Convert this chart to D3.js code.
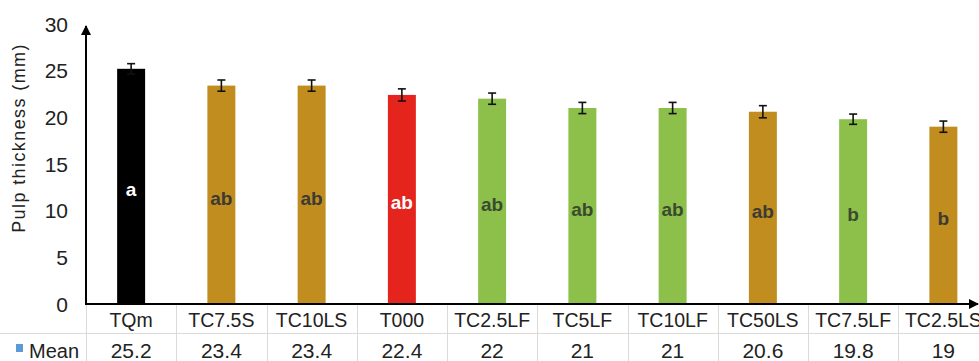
<!DOCTYPE html>
<html>
<head>
<meta charset="utf-8">
<script src="https://cdn.jsdelivr.net/npm/d3@7"></script>
<style>
  body { margin: 0; background: #fff; overflow: hidden; }
  svg { display: block; font-family: Arial, "Liberation Sans", sans-serif; }
</style>
</head>
<body>
<div id="chart"></div>
<script>
// Data
const categories = ['TQm', 'TC7.5S', 'TC10LS', 'T000', 'TC2.5LF', 'TC5LF', 'TC10LF', 'TC50LS', 'TC7.5LF', 'TC2.5LS'];
const means = [25.2, 23.4, 23.4, 22.4, 22, 21, 21, 20.6, 19.8, 19];
const errors = [0.55, 0.6, 0.6, 0.65, 0.6, 0.6, 0.6, 0.65, 0.55, 0.6];
const letters = ['a', 'ab', 'ab', 'ab', 'ab', 'ab', 'ab', 'ab', 'b', 'b'];
const groups = ['control', 'S', 'S', 'zero', 'F', 'F', 'F', 'S', 'F', 'S'];
const yTicks = [0, 5, 10, 15, 20, 25, 30];

const fillColor = { control: '#000000', S: '#c08d1e', zero: '#e5241e', F: '#8cc04b' };
const letterColor = { control: '#ffffff', S: '#3d3a33', zero: '#ffffff', F: '#3a4a30' };

const width = 979, height = 361;
const margin = { left: 86, top: 24, bottom: 57 };
const colStep = 90.25;

const svg = d3.select('#chart').append('svg')
  .attr('width', width)
  .attr('height', height);

// Columns run past the right edge, as in the original
const x = d3.scaleBand()
  .domain(categories)
  .range([margin.left, margin.left + colStep * categories.length])
  .paddingInner(0.69)
  .paddingOuter(0.345);

const y = d3.scaleLinear()
  .domain([0, 30])
  .range([height - margin.bottom, margin.top]);

const colStart = (i) => margin.left + i * colStep;

// Table grid
const grid = svg.append('g').attr('stroke', '#dadada').attr('stroke-width', 1);
grid.append('line')
  .attr('x1', 0).attr('x2', width)
  .attr('y1', 333.5).attr('y2', 333.5);
categories.forEach((c, i) => {
  grid.append('line')
    .attr('x1', Math.round(colStart(i)) + 0.5).attr('x2', Math.round(colStart(i)) + 0.5)
    .attr('y1', y(0)).attr('y2', height);
});

// Y tick labels
svg.append('g').selectAll('text')
  .data(yTicks)
  .join('text')
  .attr('x', 68)
  .attr('y', (d) => y(d))
  .attr('dy', '0.36em')
  .attr('text-anchor', 'end')
  .attr('font-size', 21)
  .attr('fill', '#222')
  .text((d) => d);

// Y title
svg.append('text')
  .attr('transform', 'translate(25,138) rotate(-90)')
  .attr('text-anchor', 'middle')
  .attr('font-size', 18)
  .attr('fill', '#222')
  .attr('letter-spacing', 1.4)
  .text('Pulp thickness  (mm)');

// Bars
svg.append('g').selectAll('rect')
  .data(categories)
  .join('rect')
  .attr('x', (d) => x(d))
  .attr('width', x.bandwidth())
  .attr('y', (d, i) => y(means[i]))
  .attr('height', (d, i) => y(0) - y(means[i]))
  .attr('fill', (d, i) => fillColor[groups[i]]);

// Error bars
const eb = svg.append('g').attr('stroke', '#111').attr('stroke-width', 1.6);
categories.forEach((c, i) => {
  const cx = x(c) + x.bandwidth() / 2;
  const y1 = y(means[i] + errors[i]), y2 = y(means[i] - errors[i]);
  eb.append('line').attr('x1', cx).attr('x2', cx).attr('y1', y1).attr('y2', y2);
  eb.append('line').attr('x1', cx - 4).attr('x2', cx + 4).attr('y1', y1).attr('y2', y1);
  eb.append('line').attr('x1', cx - 4).attr('x2', cx + 4).attr('y1', y2).attr('y2', y2);
});

// Significance letters
svg.append('g').selectAll('text')
  .data(categories)
  .join('text')
  .attr('x', (d) => x(d) + x.bandwidth() / 2)
  .attr('y', (d, i) => (y(means[i]) + y(0)) / 2 + 3)
  .attr('dy', '0.36em')
  .attr('text-anchor', 'middle')
  .attr('font-size', 19)
  .attr('font-weight', 'bold')
  .attr('fill', (d, i) => letterColor[groups[i]])
  .text((d, i) => letters[i]);

// Axes with arrows
svg.append('defs').append('marker')
  .attr('id', 'arrow')
  .attr('viewBox', '0 0 10 10')
  .attr('refX', 9).attr('refY', 5)
  .attr('markerWidth', 5).attr('markerHeight', 5)
  .attr('orient', 'auto')
  .append('path')
  .attr('d', 'M0,0 L10,5 L0,10 z')
  .attr('fill', '#000');

svg.append('line')
  .attr('x1', margin.left).attr('x2', margin.left)
  .attr('y1', y(0) + 1).attr('y2', 26)
  .attr('stroke', '#000').attr('stroke-width', 2)
  .attr('marker-end', 'url(#arrow)');

svg.append('line')
  .attr('x1', margin.left - 1).attr('x2', width - 1)
  .attr('y1', y(0)).attr('y2', y(0))
  .attr('stroke', '#000').attr('stroke-width', 2)
  .attr('marker-end', 'url(#arrow)');

// Table rows
svg.append('g').selectAll('text')
  .data(categories)
  .join('text')
  .attr('x', (d, i) => colStart(i) + colStep / 2)
  .attr('y', 327)
  .attr('text-anchor', 'middle')
  .attr('font-size', 19.5)
  .attr('fill', '#222')
  .text((d) => d);

svg.append('g').selectAll('text')
  .data(means)
  .join('text')
  .attr('x', (d, i) => colStart(i) + colStep / 2)
  .attr('y', 357.5)
  .attr('text-anchor', 'middle')
  .attr('font-size', 21)
  .attr('fill', '#222')
  .text((d) => d);

svg.append('rect')
  .attr('x', 16).attr('y', 344)
  .attr('width', 7).attr('height', 8)
  .attr('fill', '#5b9bd5');
svg.append('text')
  .attr('x', 29).attr('y', 357.5)
  .attr('font-size', 20)
  .attr('fill', '#222')
  .text('Mean');
</script>
</body>
</html>
